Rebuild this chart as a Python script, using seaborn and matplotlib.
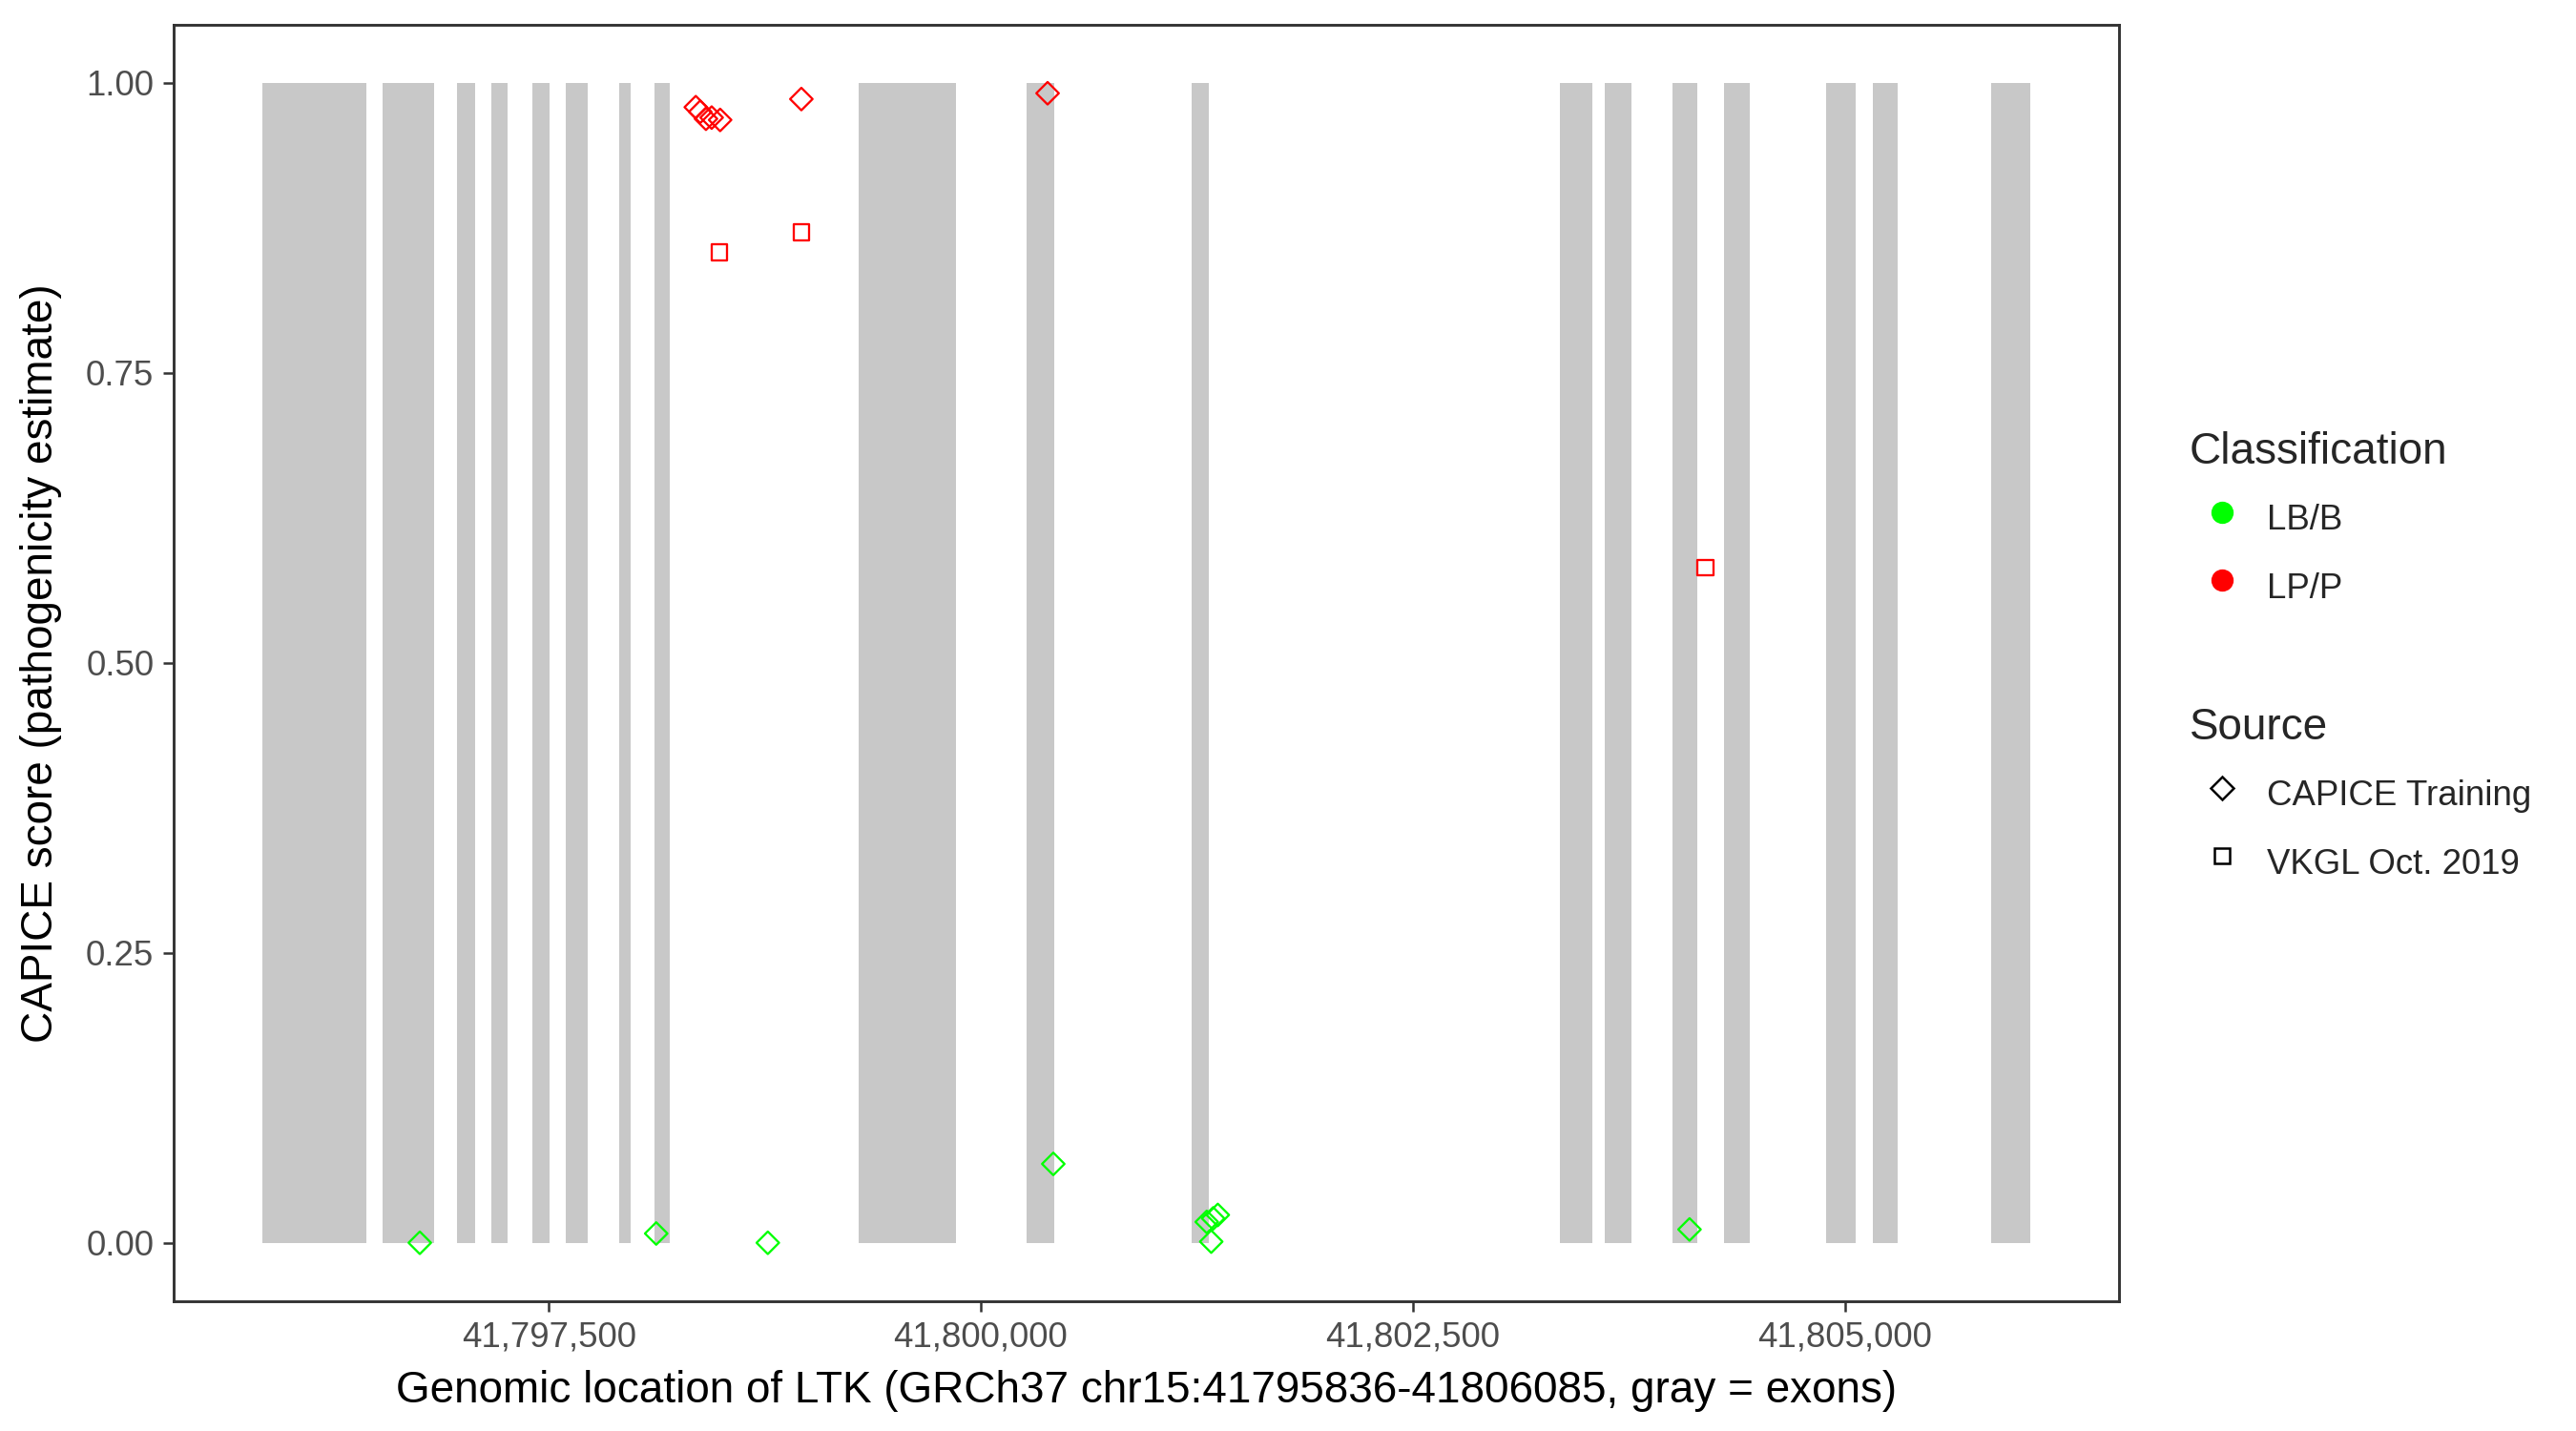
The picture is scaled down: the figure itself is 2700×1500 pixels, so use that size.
import pandas as pd
import matplotlib
matplotlib.use("Agg")
import matplotlib.pyplot as plt
from matplotlib.lines import Line2D
import seaborn as sns

# exon coordinates (GRCh37, chr15)
exon_start = [41795841, 41796541, 41796971, 41797170, 41797408, 41797601, 41797908, 41798114,
              41799291, 41800264, 41801222, 41803354, 41803610, 41804004, 41804303, 41804891,
              41805162, 41805850]
exon_end = [41796443, 41796838, 41797075, 41797262, 41797506, 41797727, 41797974, 41798199,
            41799855, 41800425, 41801322, 41803539, 41803767, 41804146, 41804450, 41805062,
            41805304, 41806073]

# variants
pos = [41798351, 41798377, 41798410, 41798443, 41798492, 41798962, 41800387,
       41798487, 41798962, 41804193,
       41796754, 41798122, 41798768, 41800420, 41801308, 41801345, 41801372, 41801334, 41804102]
score = [0.979, 0.975, 0.969, 0.970, 0.968, 0.986, 0.991,
         0.854, 0.871, 0.582,
         0.000, 0.008, 0.000, 0.068, 0.018, 0.021, 0.024, 0.001, 0.0115]
classification = ["LP/P"] * 10 + ["LB/B"] * 9
source = ["CAPICE Training"] * 7 + ["VKGL Oct. 2019"] * 3 + ["CAPICE Training"] * 9

class_levels = ["LB/B", "LP/P"]
source_levels = ["CAPICE Training", "VKGL Oct. 2019"]
y_ticks = [0.0, 0.25, 0.5, 0.75, 1.0]
x_ticks = [41797500, 41800000, 41802500, 41805000]

colors = {"LB/B": "#00FF00", "LP/P": "#FF0000"}
markers = {"CAPICE Training": "D", "VKGL Oct. 2019": "s"}

df = pd.DataFrame({"pos": pos, "score": score, "Classification": classification, "Source": source})

sns.set_style("white")
plt.rcParams["font.family"] = ["Liberation Sans", "DejaVu Sans"]

fig = plt.figure(figsize=(9, 5), dpi=300)
ax = fig.add_axes([182 / 2700, 1 - 1363.5 / 1500, (2220.5 - 182) / 2700, (1363.5 - 26) / 1500])

widths = [e - s for s, e in zip(exon_start, exon_end)]
ax.bar(exon_start, [1.0] * len(exon_start), width=widths, bottom=0, align="edge",
       color="#C8C8C8", linewidth=0, zorder=1)

sns.scatterplot(data=df, x="pos", y="score", hue="Classification", hue_order=class_levels,
                style="Source", style_order=source_levels, palette=colors, markers=markers,
                s=16, legend=False, ax=ax, zorder=3)
pts = ax.collections[-1]
pts.set_edgecolors(pts.get_facecolors())
pts.set_facecolors("none")
pts.set_linewidths(0.55)

pad = (max(exon_end) - min(exon_start)) * 0.05
ax.set_xlim(min(exon_start) - pad, max(exon_end) + pad)
ax.set_ylim(-0.05, 1.05)
ax.set_xticks(x_ticks)
ax.set_xticklabels([f"{t:,}" for t in x_ticks])
ax.set_yticks(y_ticks)
ax.set_yticklabels([f"{t:.2f}" for t in y_ticks])
ax.tick_params(axis="both", direction="out", length=2.75, width=0.6, color="#333333",
               labelsize=8.8, labelcolor="#4D4D4D", pad=2.2, bottom=True, left=True)
for sp in ax.spines.values():
    sp.set_color("#333333")
    sp.set_linewidth(0.7)
ax.grid(False)

ax.set_xlabel("Genomic location of LTK (GRCh37 chr15:41795836-41806085, gray = exons)",
              fontsize=11, color="black", labelpad=4)
ax.set_ylabel("CAPICE score (pathogenicity estimate)", fontsize=11, color="black", labelpad=6)

h1 = [Line2D([], [], marker="o", linestyle="", color=colors[c], markersize=4.6) for c in class_levels]
h2 = [Line2D([], [], marker=markers[s], linestyle="", markerfacecolor="none", markeredgecolor="black",
             markeredgewidth=0.6, markersize=4.0) for s in source_levels]
kw = dict(frameon=False, loc="upper left", fontsize=8.8, title_fontsize=11, borderpad=0,
          borderaxespad=0, handlelength=1.85, handletextpad=0.35, labelspacing=0.62,
          handleheight=1.67, alignment="left", bbox_transform=fig.transFigure)
leg1 = fig.legend(h1, class_levels, title="Classification", bbox_to_anchor=(2295 / 2700, 1 - 452 / 1500), **kw)
leg2 = fig.legend(h2, source_levels, title="Source", bbox_to_anchor=(2295 / 2700, 1 - 741 / 1500), **kw)

fig.savefig("out.png", dpi=300)
